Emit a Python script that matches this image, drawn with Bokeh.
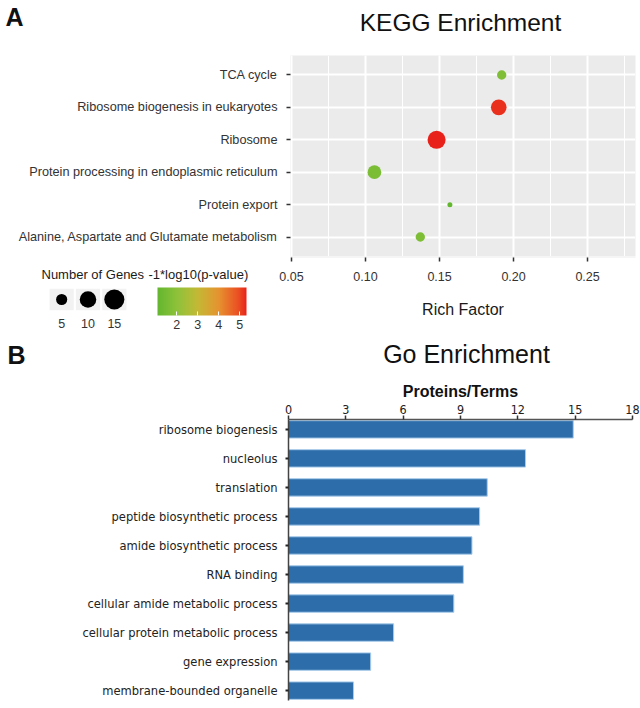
import math
from bokeh.plotting import figure
from bokeh.layouts import column, row
from bokeh.models import (FactorRange, Range1d, Grid, SingleIntervalTicker, FixedTicker,
                          PrintfTickFormatter, LinearColorMapper, ColorBar, ColumnDataSource)
from bokeh.transform import transform
from bokeh.core.properties import value
from bokeh.embed import file_html
from bokeh.resources import INLINE

# ---------------- Panel A data (KEGG) ----------------
kegg_terms = ["TCA cycle", "Ribosome biogenesis in eukaryotes", "Ribosome",
              "Protein processing in endoplasmic reticulum", "Protein export",
              "Alanine, Aspartate and Glutamate metabolism"]
kegg_rich = [0.192, 0.190, 0.148, 0.106, 0.157, 0.137]
kegg_genes = [4, 9, 12, 7, 3, 4]
kegg_logp = [1.70, 5.20, 5.32, 1.60, 1.08, 1.65]
rich_ticks = [0.05, 0.10, 0.15, 0.20, 0.25]
size_breaks = [5, 10, 15]
color_ticks = [2, 3, 4, 5]

# ---------------- Panel B data (GO) ----------------
go_terms = ["ribosome biogenesis", "nucleolus", "translation", "peptide biosynthetic process",
            "amide biosynthetic process", "RNA binding", "cellular amide metabolic process",
            "cellular protein metabolic process", "gene expression", "membrane-bounded organelle"]
go_values = [14.9, 12.4, 10.4, 10.0, 9.6, 9.15, 8.65, 5.5, 4.3, 3.4]
go_ticks = [0, 3, 6, 9, 12, 15, 18]

FONT = "Liberation Sans"
COND = "'DejaVu Sans Condensed', 'Liberation Sans', sans-serif"

# size scale (diameter in px) for gene counts
nmin = min(kegg_genes)
def genes_to_px(n):
    return 5 + 4.36 * math.sqrt(max(n - nmin, 0))

# colour gradient green -> red
grad_stops = [0.0, 0.22, 0.45, 0.69, 0.92, 1.0]
grad_colors = ["#63B72F", "#8EC23A", "#C4B935", "#E69230", "#EB4B22", "#E8221B"]
def _rgb(h):
    return tuple(int(h[i:i + 2], 16) for i in (1, 3, 5))
palette = []
for i in range(256):
    t = i / 255
    for j in range(len(grad_stops) - 1):
        if grad_stops[j] <= t <= grad_stops[j + 1]:
            f = (t - grad_stops[j]) / (grad_stops[j + 1] - grad_stops[j])
            a, b = _rgb(grad_colors[j]), _rgb(grad_colors[j + 1])
            c = [round(a[k] + (b[k] - a[k]) * f) for k in range(3)]
            palette.append("#%02X%02X%02X" % tuple(c))
            break
mapper = LinearColorMapper(palette=palette, low=min(kegg_logp), high=max(kegg_logp))


def text_fig(w, h):
    f = figure(width=w, height=h, output_backend="svg", toolbar_location=None,
               x_range=Range1d(0, w), y_range=Range1d(h, 0),
               x_axis_location=None, y_axis_location=None,
               min_border_left=0, min_border_right=0, min_border_top=0, min_border_bottom=0,
               frame_align=False)
    f.outline_line_color = None
    f.xgrid.visible = False
    f.ygrid.visible = False
    return f


# ---------------- heading A ----------------
tA = text_fig(640, 50)
tA.text(x=[5], y=[16], text=["A"], text_font=value(FONT), text_font_style="bold",
        text_font_size="25px", text_baseline="middle", text_align="left", text_color="#111111")
tA.text(x=[460], y=[22], text=["KEGG Enrichment"], text_font=value(FONT),
        text_font_size="24.5px", text_baseline="middle", text_align="center", text_color="#111111")

# ---------------- Panel A main ----------------
fa = figure(width=640, height=206, output_backend="svg", toolbar_location=None,
            x_range=Range1d(0.0493, 0.2824),
            y_range=FactorRange(factors=kegg_terms[::-1], range_padding=0.1,
                                range_padding_units="absolute"),
            x_axis_location=None, frame_align=False,
            min_border_left=290, min_border_right=5, min_border_top=5, min_border_bottom=0)
fa.background_fill_color = "#EBEBEB"
fa.outline_line_color = None
fa.xgrid.visible = False
ya = fa.yaxis[0]
ya.axis_line_color = None
ya.major_tick_out = 4
ya.major_tick_in = 0
ya.major_tick_line_color = "#333333"
ya.major_tick_line_width = 1.5
ya.major_label_text_font = FONT
ya.major_label_text_font_size = "12.7px"
ya.major_label_text_color = "#333333"
ya.major_label_standoff = 9
fa.ygrid.grid_line_color = "white"
fa.ygrid.grid_line_width = 2
xg = Grid(dimension=0, ticker=SingleIntervalTicker(interval=rich_ticks[1] - rich_ticks[0], num_minor_ticks=2),
          grid_line_color="white", grid_line_width=2,
          minor_grid_line_color="white", minor_grid_line_width=1)
fa.add_layout(xg)

srcA = ColumnDataSource(dict(term=kegg_terms, rich=kegg_rich, genes=kegg_genes, logp=kegg_logp,
                             size=[genes_to_px(g) for g in kegg_genes]))
fa.scatter(x="rich", y="term", size="size", source=srcA,
           fill_color=transform("logp", mapper), line_color=None)

# ---------------- legend titles ----------------
tL = text_fig(262, 26)
tL.text(x=[41, 148], y=[18, 18], text=["Number of Genes", "-1*log10(p-value)"],
        text_font=value(FONT), text_font_size="13px", text_baseline="middle",
        text_align="left", text_color="#1A1A1A")

# ---------------- size legend ----------------
size_labels = [str(b) for b in size_breaks]
fs = figure(width=143, height=48, output_backend="svg", toolbar_location=None,
            x_range=FactorRange(factors=size_labels), y_range=Range1d(0, 1),
            y_axis_location=None, frame_align=False,
            min_border_left=48, min_border_right=16, min_border_top=6, min_border_bottom=15)
fs.outline_line_color = None
fs.grid.visible = False
xs = fs.xaxis[0]
xs.axis_line_color = None
xs.major_tick_line_color = None
xs.major_label_text_font = FONT
xs.major_label_text_font_size = "12.5px"
xs.major_label_text_color = "#333333"
xs.major_label_standoff = 2
fs.vbar(x=size_labels, top=1, bottom=0, width=0.92, fill_color="#F2F2F2", line_color=None)
fs.scatter(x=size_labels, y=0.5, size=[genes_to_px(b) for b in size_breaks],
           fill_color="black", line_color=None)

# ---------------- colour legend ----------------
fc = figure(width=119, height=48, output_backend="svg", toolbar_location=None,
            x_axis_location=None, y_axis_location=None, frame_align=False,
            min_border_left=14, min_border_right=16, min_border_top=5, min_border_bottom=15)
fc.outline_line_color = None
fc.xgrid.visible = False
fc.ygrid.visible = False
cb = ColorBar(color_mapper=mapper, orientation="horizontal", location="top_left",
              width=89, height=28, margin=0, padding=0,
              ticker=FixedTicker(ticks=color_ticks),
              major_label_text_font=FONT, major_label_text_font_size="12.5px",
              major_label_text_color="#333333",
              major_tick_in=4, major_tick_out=0, major_tick_line_color="white",
              label_standoff=4, background_fill_alpha=0, bar_line_color=None)
fc.add_layout(cb, "center")

# ---------------- x axis of panel A ----------------
fx = figure(width=378, height=74, output_backend="svg", toolbar_location=None,
            x_range=fa.x_range, y_range=Range1d(0, 1), y_axis_location=None, frame_align=False,
            min_border_left=28, min_border_right=5, min_border_top=0, min_border_bottom=73)
fx.outline_line_color = None
fx.background_fill_color = "#EBEBEB"
fx.grid.visible = False
xa = fx.xaxis[0]
xa.ticker = FixedTicker(ticks=rich_ticks)
xa.formatter = PrintfTickFormatter(format="%.2f")
xa.axis_line_color = None
xa.major_tick_out = 4
xa.major_tick_in = 0
xa.major_tick_line_color = "#333333"
xa.major_tick_line_width = 1.5
xa.minor_tick_line_color = None
xa.major_label_text_font = FONT
xa.major_label_text_font_size = "12.5px"
xa.major_label_text_color = "#333333"
xa.major_label_standoff = 10
xa.axis_label = "Rich Factor"
xa.axis_label_text_font = FONT
xa.axis_label_text_font_size = "16px"
xa.axis_label_text_font_style = "normal"
xa.axis_label_text_color = "#1A1A1A"
xa.axis_label_standoff = 17

# ---------------- heading B ----------------
tB = text_fig(640, 44)
tB.text(x=[7], y=[24], text=["B"], text_font=value(FONT), text_font_style="bold",
        text_font_size="25px", text_baseline="middle", text_align="left", text_color="#111111")
tB.text(x=[466], y=[23], text=["Go Enrichment"], text_font=value(FONT),
        text_font_size="25px", text_baseline="middle", text_align="center", text_color="#111111")

# ---------------- Panel B ----------------
srcB = ColumnDataSource(dict(term=go_terms, value=go_values))
fb = figure(width=640, height=334, output_backend="svg", toolbar_location=None,
            x_range=Range1d(go_ticks[0], go_ticks[-1]),
            y_range=FactorRange(factors=go_terms[::-1], range_padding=-0.16,
                                range_padding_units="absolute"),
            x_axis_location="above", frame_align=False,
            min_border_left=288, min_border_right=8, min_border_top=45, min_border_bottom=8)
fb.outline_line_color = None
fb.grid.visible = False
fb.hbar(y="term", right="value", left=0, height=0.6, source=srcB,
        fill_color="#2C6DAA", line_color="#A8CBEA", line_width=1)
xb = fb.xaxis[0]
xb.ticker = FixedTicker(ticks=go_ticks)
xb.axis_line_color = "#555555"
xb.axis_line_width = 1.5
xb.major_tick_out = 4
xb.major_tick_in = 0
xb.major_tick_line_color = "#333333"
xb.major_tick_line_width = 1.5
xb.minor_tick_line_color = None
xb.major_label_text_font = COND
xb.major_label_text_font_size = "12.5px"
xb.major_label_text_color = "#222222"
xb.major_label_standoff = 2
xb.axis_label = "Proteins/Terms"
xb.axis_label_text_font = FONT
xb.axis_label_text_font_size = "16px"
xb.axis_label_text_font_style = "bold"
xb.axis_label_text_color = "#111111"
xb.axis_label_standoff = 2
yb = fb.yaxis[0]
yb.axis_line_color = "#444444"
yb.axis_line_width = 1.5
yb.major_tick_out = 3
yb.major_tick_in = 0
yb.major_tick_line_color = "#222222"
yb.major_tick_line_width = 2
yb.major_label_text_font = COND
yb.major_label_text_font_size = "12.8px"
yb.major_label_text_color = "#222222"
yb.major_label_standoff = 8

layout = column(tA, fa, row(column(tL, row(fs, fc)), fx), tB, fb)
open("out.html", "w").write(file_html(layout, INLINE))
